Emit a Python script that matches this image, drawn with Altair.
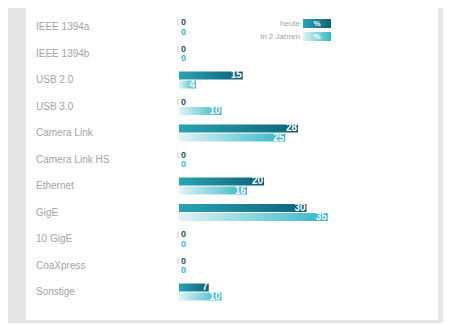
import altair as alt
import pandas as pd

categories = ["IEEE 1394a", "IEEE 1394b", "USB 2.0", "USB 3.0", "Camera Link",
              "Camera Link HS", "Ethernet", "GigE", "10 GigE", "CoaXpress", "Sonstige"]
heute = [0, 0, 15, 0, 28, 0, 20, 30, 0, 0, 7]
jahren = [0, 0, 4, 10, 25, 0, 16, 35, 0, 0, 10]
series = ["heute", "in 2 Jahren"]

rows = []
for c, h, j in zip(categories, heute, jahren):
    rows.append({"cat": c, "series": series[0], "value": h})
    rows.append({"cat": c, "series": series[1], "value": j})
df = pd.DataFrame(rows)
cat_df = pd.DataFrame({"cat": categories})

FONT = "Liberation Sans"

y_enc = alt.Y("cat:N", sort=categories, axis=None,
              scale=alt.Scale(domain=categories, range=[5.75, 297.25],
                              paddingInner=0, paddingOuter=0))
yoff_enc = alt.YOffset("series:N", scale=alt.Scale(domain=series, paddingInner=0, paddingOuter=0.47))
x_enc = alt.X("value:Q", axis=None, scale=alt.Scale(domain=[0, 60], range=[153, 408]))

grad_heute = alt.Gradient(gradient="linear", x1=0, x2=1, y1=0, y2=0,
                          stops=[alt.GradientStop(color="#2aa3b3", offset=0),
                                 alt.GradientStop(color="#0e6276", offset=1)])
grad_jahren = alt.Gradient(gradient="linear", x1=0, x2=1, y1=0, y2=0,
                           stops=[alt.GradientStop(color="#e2f3f6", offset=0),
                                  alt.GradientStop(color="#33b6c6", offset=1)])

base = alt.Chart(df)

bars_h = base.transform_filter(alt.datum.series == "heute").mark_bar(height=8).encode(
    x=x_enc, y=y_enc, yOffset=yoff_enc, color=alt.value(grad_heute))
bars_j = base.transform_filter(alt.datum.series == "in 2 Jahren").mark_bar(height=8).encode(
    x=x_enc, y=y_enc, yOffset=yoff_enc, color=alt.value(grad_jahren))

val_text = base.transform_filter(alt.datum.value > 0).mark_text(
    align="right", baseline="middle", dx=-1, font=FONT, fontSize=10, fontWeight="bold",
    color="white").encode(x=x_enc, y=y_enc, yOffset=yoff_enc, text="value:Q")

zero_text = base.transform_filter(alt.datum.value == 0).mark_text(
    align="left", baseline="middle", dx=2, font=FONT, fontSize=9, fontWeight="bold").encode(
    x=x_enc, y=y_enc, yOffset=yoff_enc, text="value:Q",
    color=alt.Color("series:N", scale=alt.Scale(domain=series, range=["#2c4f5e", "#3ab3c4"]),
                    legend=None))

zero_tick = base.transform_filter((alt.datum.value == 0) & (alt.datum.series == "heute")).mark_tick(
    orient="vertical", thickness=1, size=7, color="#b8b8b8", xOffset=-1).encode(
    x=x_enc, y=y_enc, yOffset=yoff_enc)

labels = alt.Chart(cat_df).mark_text(
    align="left", baseline="middle", font=FONT, fontSize=10, color="#a3a3a3").encode(
    x=alt.value(10), y=y_enc, text="cat:N")

one = pd.DataFrame({"k": [0]})
legend_layers = []
for name, grad, y0 in [("heute", grad_heute, 11), ("in 2 Jahren", grad_jahren, 24)]:
    legend_layers.append(alt.Chart(one).mark_rect(color=grad).encode(
        x=alt.value(277), x2=alt.value(305), y=alt.value(y0), y2=alt.value(y0 + 9)))
    legend_layers.append(alt.Chart(one).mark_text(
        align="center", baseline="middle", font=FONT, fontSize=8, fontWeight="bold",
        color="white").encode(x=alt.value(291), y=alt.value(y0 + 4.5), text=alt.value("%")))
    legend_layers.append(alt.Chart(one).mark_text(
        align="right", baseline="middle", font=FONT, fontSize=8, color="#a3a3a3").encode(
        x=alt.value(274), y=alt.value(y0 + 4.5), text=alt.value(name)))

chart = alt.layer(bars_h, bars_j, zero_tick, val_text, zero_text, labels, *legend_layers).properties(
    width=412, height=312, background="#e6e6e6",
    padding={"left": 18, "top": 0, "right": 5, "bottom": 3}
).configure_view(fill="white", strokeWidth=0)

chart.save("out.html", embed_options={"renderer": "svg", "actions": False})
